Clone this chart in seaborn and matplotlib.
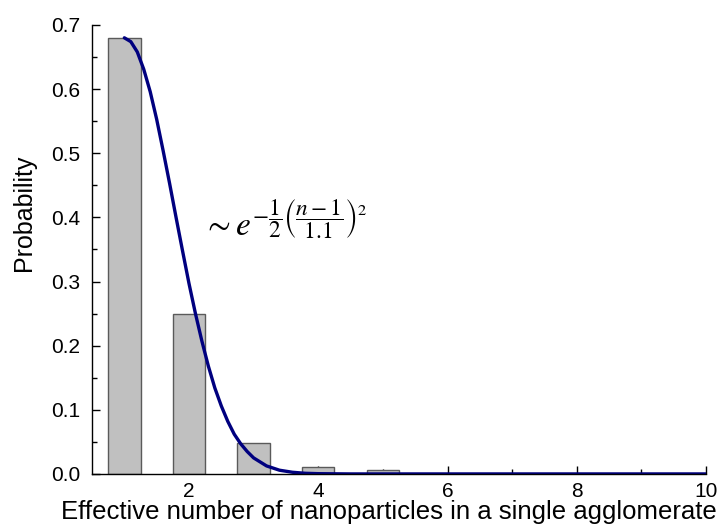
import pandas as pd
import seaborn as sns
import matplotlib.pyplot as plt
from matplotlib.ticker import MultipleLocator

# histogram of agglomerate sizes
n_values = [1, 2, 3, 4, 5]
probability = [0.68, 0.249, 0.049, 0.0104, 0.0065]

# fitted gaussian curve
fit_n = [1.0, 1.1, 1.2, 1.3, 1.4, 1.5, 1.6, 1.7, 1.8, 1.9, 2.0, 2.1, 2.2, 2.3,
         2.4, 2.5, 2.6, 2.7, 2.8, 2.9, 3.0, 3.2, 3.4, 3.6, 3.8, 4.0, 4.5, 5.0,
         6.0, 7.0, 8.0, 9.0, 10.0]
fit_p = [0.680, 0.674, 0.658, 0.631, 0.596, 0.553, 0.504, 0.453, 0.400, 0.348,
         0.297, 0.250, 0.207, 0.168, 0.134, 0.106, 0.082, 0.062, 0.047, 0.035,
         0.025, 0.0125, 0.0058, 0.0026, 0.0010, 0.0004, 0.0, 0.0,
         0.0, 0.0, 0.0, 0.0, 0.0]

sns.set_style("ticks")
plt.rcParams['font.family'] = ['Liberation Sans', 'DejaVu Sans']
plt.rcParams['mathtext.fontset'] = 'stix'
for key in ['text.color', 'axes.labelcolor', 'xtick.color', 'ytick.color',
            'xtick.labelcolor', 'ytick.labelcolor']:
    plt.rcParams[key] = 'black'

fig, ax = plt.subplots(figsize=(7.19, 5.26), dpi=100)
fig.subplots_adjust(left=0.128, right=0.982, top=0.9525, bottom=0.099)

bars = pd.DataFrame({"n": n_values, "p": probability})
sns.barplot(data=bars, x="n", y="p", native_scale=True, width=0.5,
            color="#c0c0c0", edgecolor="#5a5a5a", linewidth=1,
            saturation=1, errorbar=None, ax=ax)
sns.lineplot(x=fit_n, y=fit_p, color="#00007f", linewidth=2.4, ax=ax)

ax.set_xlim(0.5, 10)
ax.set_ylim(0, 0.7)
ax.xaxis.set_major_locator(MultipleLocator(2))
ax.xaxis.set_minor_locator(MultipleLocator(1))
ax.yaxis.set_major_locator(MultipleLocator(0.1))
ax.yaxis.set_minor_locator(MultipleLocator(0.05))
ax.tick_params(which='both', direction='in', labelsize=15, color='black')
ax.tick_params(which='major', length=6, width=1)
ax.tick_params(which='minor', length=3.5, width=1)
ax.tick_params(axis='x', pad=6)
ax.tick_params(axis='y', pad=8.5)
sns.despine(ax=ax)
for s in ax.spines.values():
    s.set_color('black')
    s.set_linewidth(1)

ax.set_xlabel("Effective number of nanoparticles in a single agglomerate",
              fontsize=18.5)
ax.set_ylabel("Probability", fontsize=18)
ax.xaxis.set_label_coords(0.483, -0.058)
ax.yaxis.set_label_coords(-0.091, 0.581)

ax.text(2.22, 0.37, r"$\sim e^{-\dfrac{1}{2}\left(\dfrac{n-1}{1.1}\right)^2}$",
        fontsize=24)

plt.savefig("out.png", dpi=100)
